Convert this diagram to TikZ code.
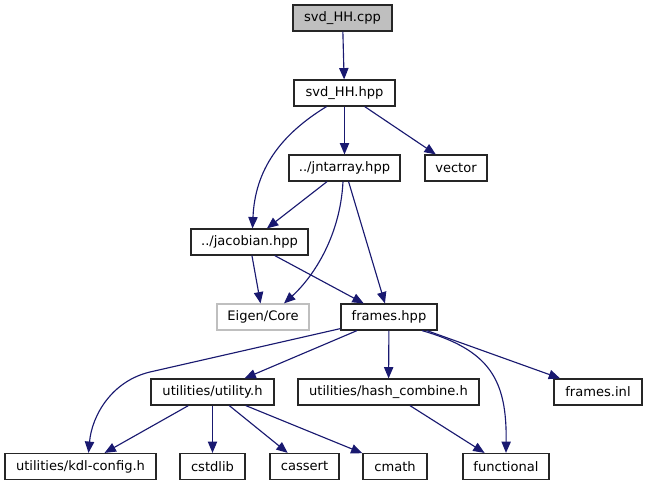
\documentclass[tikz,border=0pt]{standalone}
\usepackage{fontspec}
\setmainfont{DejaVu Sans}
\usetikzlibrary{arrows.meta,calc}
\definecolor{edgeblue}{HTML}{191970}
\definecolor{lightborder}{HTML}{BFBFBF}
\definecolor{cppfill}{HTML}{BFBFBF}
\begin{document}
\begin{tikzpicture}[x=0.75pt,y=-0.75pt,
  box/.style={draw=black!85,line width=0.9pt,fill=white,inner sep=0pt,minimum height=19.5pt,
    font=\fontsize{9.8}{11}\selectfont},
  ext/.style={box,draw=lightborder},
  dep/.style={draw=edgeblue,line width=0.85pt,-{Triangle[length=8.5pt,width=7pt]}}]
\useasboundingbox (0,0) rectangle (647,485);
\node[box,fill=cppfill,minimum width=74.25pt] (cpp) at (342.5,18) {svd\_HH.cpp};
\node[box,minimum width=75.75pt] (hpp) at (344.5,93) {svd\_HH.hpp};
\node[box,minimum width=83.25pt] (jnt) at (344.5,168) {../jntarray.hpp};
\node[box,minimum width=46.5pt] (vector) at (456,168) {vector};
\node[box,minimum width=87.75pt] (jac) at (249.5,242) {../jacobian.hpp};
\node[ext,minimum width=69pt] (eigen) at (263,317) {Eigen/Core};
\node[box,minimum width=72pt] (frames) at (389,317) {frames.hpp};
\node[box,minimum width=92.25pt] (utility) at (212.5,392) {utilities/utility.h};
\node[box,minimum width=135.75pt] (hash) at (388.5,392) {utilities/hash\_combine.h};
\node[box,minimum width=66pt] (inl) at (598,392) {frames.inl};
\node[box,minimum width=113.25pt] (kdl) at (80.5,466.5) {utilities/kdl-config.h};
\node[box,minimum width=48.75pt] (cstdlib) at (212.5,466.5) {cstdlib};
\node[box,minimum width=51.75pt] (cassert) at (304.5,466.5) {cassert};
\node[box,minimum width=48pt] (cmath) at (395,466.5) {cmath};
\node[box,minimum width=64.5pt] (functional) at (506,466.5) {functional};

\draw[dep] (cpp) -- (hpp);
\draw[dep] (hpp) -- (jnt);
\draw[dep] (hpp) -- (vector);
\draw[dep] ($(hpp.south)+(-18,0)$) .. controls (280,135) and (255,170) .. ($(jac.north)+(3,0)$);
\draw[dep] (jnt) -- (jac);
\draw[dep] ($(jnt.south)+(-1.5,0)$) .. controls (340,240) and (310,280) .. ($(eigen.north)+(21,0)$);
\draw[dep] (jnt) -- (frames);
\draw[dep] (jac) -- (eigen);
\draw[dep] (jac) -- (frames);
\draw[dep] ($(frames.south west)+(0,-2)$) -- (150,372) .. controls (112,381) and (92,415) .. ($(kdl.north)+(8,0)$);
\draw[dep] (frames) -- (utility);
\draw[dep] (frames) -- (hash);
\draw[dep] ($(frames.south)+(33,0)$) .. controls (490,350) and (507,380) .. (functional.north);
\draw[dep] (frames) -- (inl);
\draw[dep] (utility) -- (kdl);
\draw[dep] (utility) -- (cstdlib);
\draw[dep] (utility) -- (cassert);
\draw[dep] (utility) -- (cmath);
\draw[dep] (hash) -- (functional);
\end{tikzpicture}
\end{document}
